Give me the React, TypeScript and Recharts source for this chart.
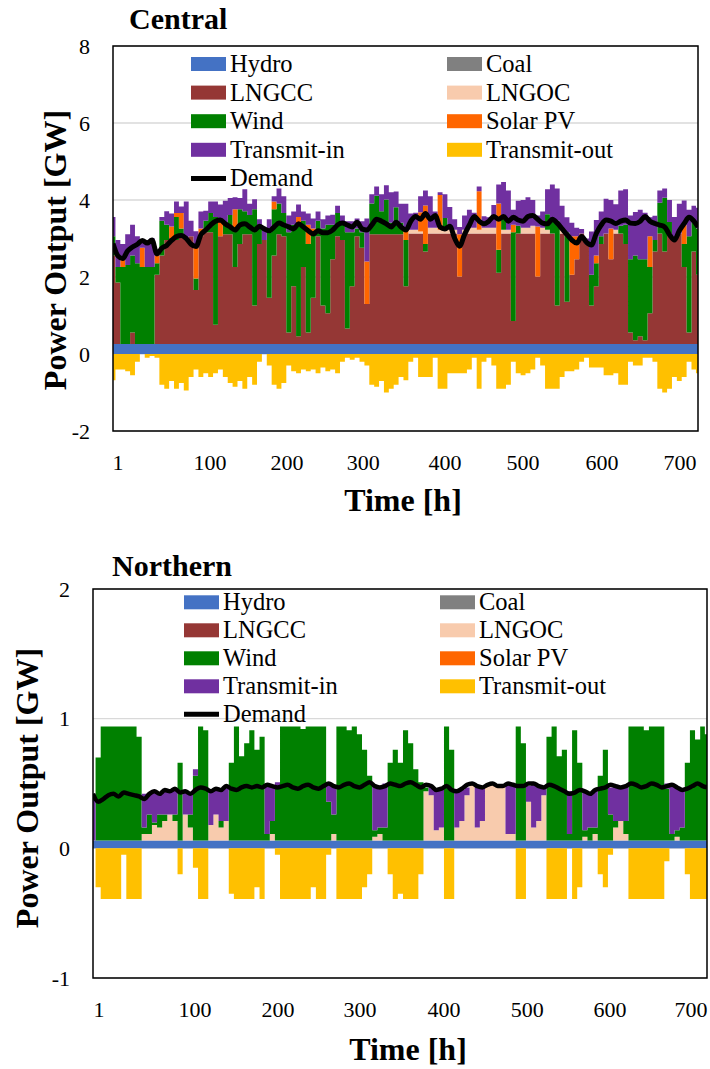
import React from 'react';
import { ComposedChart, Area, Line, XAxis, YAxis, CartesianGrid, ReferenceArea } from 'recharts';

const SERIF = "'Liberation Serif', 'Times New Roman', Times, serif";

// ---- categories: simulated hours (6-hourly samples of the 720 h month) ----
const hours: number[] = Array.from({ length: 121 }, (_, i) => Math.min(1 + 6 * i, 720));
const timeTicks = [1, 100, 200, 300, 400, 500, 600, 700];
const centralYTicks = [-2, 0, 2, 4, 6, 8];
const northernYTicks = [-1, 0, 1, 2];

// ---- Central region [GW] ----
const centralHydro = [
  0.26, 0.26, 0.26, 0.26, 0.26, 0.26, 0.26, 0.26, 0.26, 0.26,
  0.26, 0.26, 0.26, 0.26, 0.26, 0.26, 0.26, 0.26, 0.26, 0.26,
  0.26, 0.26, 0.26, 0.26, 0.26, 0.26, 0.26, 0.26, 0.26, 0.26,
  0.26, 0.26, 0.26, 0.26, 0.26, 0.26, 0.26, 0.26, 0.26, 0.26,
  0.26, 0.26, 0.26, 0.26, 0.26, 0.26, 0.26, 0.26, 0.26, 0.26,
  0.26, 0.26, 0.26, 0.26, 0.26, 0.26, 0.26, 0.26, 0.26, 0.26,
  0.26, 0.26, 0.26, 0.26, 0.26, 0.26, 0.26, 0.26, 0.26, 0.26,
  0.26, 0.26, 0.26, 0.26, 0.26, 0.26, 0.26, 0.26, 0.26, 0.26,
  0.26, 0.26, 0.26, 0.26, 0.26, 0.26, 0.26, 0.26, 0.26, 0.26,
  0.26, 0.26, 0.26, 0.26, 0.26, 0.26, 0.26, 0.26, 0.26, 0.26,
  0.26, 0.26, 0.26, 0.26, 0.26, 0.26, 0.26, 0.26, 0.26, 0.26,
  0.26, 0.26, 0.26, 0.26, 0.26, 0.26, 0.26, 0.26, 0.26, 0.26, 0.26,
];
const centralCoal = [
  0, 0, 0, 0, 0, 0, 0, 0, 0, 0, 0, 0, 0, 0, 0, 0, 0, 0, 0, 0,
  0, 0, 0, 0, 0, 0, 0, 0, 0, 0, 0, 0, 0, 0, 0, 0, 0, 0, 0, 0,
  0, 0, 0, 0, 0, 0, 0, 0, 0, 0, 0, 0, 0, 0, 0, 0, 0, 0, 0, 0,
  0, 0, 0, 0, 0, 0, 0, 0, 0, 0, 0, 0, 0, 0, 0, 0, 0, 0, 0, 0,
  0, 0, 0, 0, 0, 0, 0, 0, 0, 0, 0, 0, 0, 0, 0, 0, 0, 0, 0, 0,
  0, 0, 0, 0, 0, 0, 0, 0, 0, 0, 0, 0, 0, 0, 0, 0, 0, 0, 0, 0, 0,
];
const centralLNGCC = [
  2.3, 1.6, 0, 0, 0.3, 0, 0, 0, 0, 1.8,
  2.3, 2.7, 2.75, 2.7, 2.8, 2.75, 2.8, 1.4, 2.8, 2.9,
  2.9, 0.5, 2.8, 2.85, 2.85, 2.0, 2.6, 2.85, 2.85, 1.0,
  2.6, 2.7, 1.2, 2.3, 2.85, 2.8, 0.3, 1.5, 0.2, 2.0,
  0.3, 1.2, 2.8, 1.0, 0.8, 2.2, 2.8, 2.7, 0.4, 1.5,
  2.8, 2.5, 1.04, 2.85, 2.85, 2.85, 2.85, 2.85, 2.85, 2.85,
  1.5, 2.87, 2.87, 2.87, 2.4, 2.87, 2.87, 2.87, 2.87, 2.87,
  2.87, 1.75, 2.87, 2.87, 2.87, 2.87, 2.87, 2.87, 2.87, 1.85,
  2.87, 2.87, 0.6, 2.87, 2.87, 2.87, 2.87, 1.75, 2.87, 2.87,
  2.87, 1.0, 2.87, 1.1, 1.8, 2.2, 2.87, 2.6, 1.0, 1.5,
  2.6, 2.87, 2.2, 2.87, 2.87, 2.6, 0.3, 0.1, 0.2, 0.1,
  0.8, 2.4, 2.87, 2.4, 2.87, 2.7, 2.87, 2.0, 0.3, 2.4, 1.8,
];
const centralLNGOC = [
  0, 0, 0, 0, 0, 0, 0, 0, 0, 0,
  0, 0, 0, 0, 0, 0, 0, 0, 0, 0,
  0, 0, 0, 0, 0, 0, 0, 0, 0, 0,
  0, 0, 0, 0, 0, 0, 0, 0, 0, 0,
  0, 0, 0, 0, 0, 0, 0, 0, 0, 0,
  0, 0, 0, 0, 0, 0, 0, 0, 0, 0,
  0, 0.1, 0.1, 0.05, 0, 0.15, 0.15, 0.1, 0.1, 0.15,
  0.1, 0, 0.1, 0.15, 0.15, 0.1, 0.15, 0.15, 0.15, 0,
  0.1, 0.1, 0, 0, 0.15, 0.15, 0.2, 0, 0.15, 0.1,
  0, 0, 0.1, 0, 0, 0, 0, 0, 0, 0,
  0, 0, 0, 0.1, 0, 0, 0, 0, 0, 0,
  0, 0, 0, 0, 0, 0, 0, 0, 0, 0, 0,
];
const centralWind = [
  0.5, 0.4, 2.0, 2.05, 2.0, 2.1, 2.0, 2.0, 2.0, 0.3,
  0.9, 0.4, 0, 0.6, 0.2, 0, 0, 0.3, 0, 0.3,
  0.5, 2.8, 0, 0.3, 0.5, 1.0, 0.9, 0.6, 0.5, 2.5,
  0.4, 0, 1.7, 1.2, 0.8, 0.6, 2.6, 1.6, 2.9, 1.2,
  2.3, 1.7, 0.4, 2.0, 2.3, 0.9, 0.6, 0.4, 2.5, 1.4,
  0.2, 0.4, 0, 0.8, 1.0, 0.6, 0.9, 0.3, 0.7, 0.3,
  1.2, 0, 0, 0, 0.2, 0, 0, 0, 0.3, 0,
  0, 0, 0, 0, 0, 0, 0, 0, 0, 0.6,
  0.3, 0, 2.3, 0.2, 0, 0, 0, 0, 0, 0.4,
  0.3, 2.2, 0, 1.8, 0, 0, 0, 0, 0.8, 0.6,
  0.2, 0, 0, 0, 0.2, 0.5, 1.9, 2.2, 2.0, 2.1,
  1.2, 0.3, 0.8, 1.4, 0.3, 0, 0, 0.6, 2.5, 0.8, 1.2,
];
const centralSolar = [
  0, 0, 0.2, 0, 0, 0, 0.5, 0, 0, 0.2,
  0, 0, 0.3, 0.1, 0.4, 0, 0, 0.8, 0.2, 0,
  0, 0, 0.4, 0, 0, 0.5, 0, 0, 0, 0,
  0, 0, 0, 0.2, 0, 0, 0, 0, 0.2, 0,
  0.5, 0.1, 0, 0, 0, 0, 0, 0, 0, 0,
  0, 0, 1.1, 0, 0, 0, 0, 0, 0, 0,
  0.3, 0, 0, 0.5, 1.0, 0, 0, 0.9, 0, 0,
  0, 1.1, 0, 0, 0, 1.0, 0, 0, 0, 1.2,
  0, 0, 0.2, 0, 0, 0, 0, 1.3, 0, 0,
  0, 0, 0, 0, 1.0, 0.6, 0, 0, 0, 0.2,
  0, 0, 0.8, 0, 0, 0, 0, 0, 0, 0,
  0.8, 0, 0, 0, 0, 0, 0, 0.5, 0, 0, 0,
];
const centralTransIn = [
  0.5, 0.7, 0.4, 0.8, 0.8, 0.7, 0.2, 0.7, 0.75, 0.15,
  0.1, 0.35, 0.34, 0.3, 0.17, 0.95, 0.4, 0.43, 0.44, 0.26,
  0.3, 0.4, 0.42, 0.57, 0.44, 0.31, 0.29, 0.57, 0.29, 0.26,
  0.24, 0.26, 0.34, 0.14, 0.39, 0.44, 0.44, 0.34, 0.32, 0.24,
  0.29, 0.26, 0.24, 0.24, 0.24, 0.26, 0.19, 0.24, 0.29, 0.29,
  0.26, 0.29, 1.12, 0.24, 0.24, 0.44, 0.37, 0.79, 0.41, 0.49,
  0.64, 0.42, 0.44, 0.42, 0.39, 0.82, 0.42, 0.07, 0.62, 0.54,
  0.27, 0.19, 0.37, 0.47, 0.39, 0.12, 0.3, 0.27, 0.59, 0.49,
  0.94, 1.02, 0.39, 0.65, 0.72, 0.79, 0.67, 0.29, 0.42, 0.65,
  0.97, 0.84, 0.62, 0.39, 0.35, 0.22, 0.12, 0.14, 1.12, 0.92,
  0.64, 0.9, 0.74, 0.66, 0.92, 0.92, 1.14, 1.13, 1.29, 1.21,
  0.49, 0.63, 0.32, 0.24, 0.57, 0.6, 0.77, 0.63, 0.69, 0.39, 0.54,
];
const centralTransOut = [
  -0.68, -0.4, -0.4, -0.45, -0.55, -0.2, 0, -0.1, -0.05, -0.1,
  -0.8, -0.9, -0.7, -0.9, -0.75, -0.95, -0.6, -0.4, -0.6, -0.5,
  -0.6, -0.5, -0.4, -0.6, -0.75, -0.85, -0.7, -0.9, -0.6, -0.8,
  -0.2, 0, -0.3, -0.8, -0.9, -0.75, -0.3, -0.45, -0.5, -0.4,
  -0.45, -0.4, -0.5, -0.35, -0.45, -0.4, -0.5, -0.2, -0.1, -0.15,
  -0.1, -0.2, -0.3, -0.8, -0.85, -0.7, -1.0, -0.9, -0.8, -0.6,
  -0.68, -0.2, -0.1, -0.6, -0.6, -0.6, -0.1, -0.9, -0.9, -0.5,
  -0.5, -0.5, -0.5, -0.4, -0.1, -0.9, -0.2, -0.1, -0.3, -0.9,
  -0.9, -0.8, -0.2, -0.5, -0.55, -0.5, -0.4, -0.1, -0.3, -0.9,
  -0.9, -0.9, -0.6, -0.45, -0.45, -0.4, -0.2, -0.1, -0.35, -0.35,
  -0.35, -0.55, -0.55, -0.5, -0.8, -0.8, -0.2, -0.3, -0.3, -0.1,
  -0.1, -0.2, -0.9, -1.0, -0.9, -0.6, -0.7, -0.6, -0.2, -0.4, -0.5,
];
const centralDemand = [
  2.87, 2.55, 2.48, 2.68, 2.78, 2.85, 2.95, 2.88, 2.96, 2.6,
  2.75, 2.82, 2.95, 3.05, 3.08, 3.0, 2.85, 2.79, 3.1, 3.22,
  3.35, 3.45, 3.48, 3.38, 3.3, 3.22, 3.35, 3.38, 3.3, 3.22,
  3.32, 3.25, 3.2, 3.3, 3.4, 3.35, 3.3, 3.25, 3.38, 3.3,
  3.2, 3.12, 3.2, 3.15, 3.15, 3.22, 3.35, 3.4, 3.35, 3.3,
  3.42, 3.25, 3.22, 3.35, 3.5, 3.45, 3.38, 3.3, 3.42, 3.3,
  3.22, 3.45, 3.57, 3.5, 3.65, 3.5, 3.6, 3.3, 3.25, 3.32,
  3.0, 2.8, 3.1, 3.35, 3.57, 3.45, 3.38, 3.45, 3.57, 3.5,
  3.57, 3.45, 3.55, 3.48, 3.45, 3.57, 3.6, 3.5, 3.4, 3.38,
  3.5, 3.4, 3.25, 3.1, 2.96, 2.88, 3.05, 2.9, 2.83, 3.13,
  3.35, 3.48, 3.45, 3.39, 3.45, 3.48, 3.4, 3.39, 3.45, 3.57,
  3.45, 3.39, 3.35, 3.3, 3.1, 2.96, 3.2, 3.39, 3.55, 3.45, 3.3,
];

// ---- Northern region [GW] ----
const northernHydro = [
  0.06, 0.06, 0.06, 0.06, 0.06, 0.06, 0.06, 0.06, 0.06, 0.06,
  0.06, 0.06, 0.06, 0.06, 0.06, 0.06, 0.06, 0.06, 0.06, 0.06,
  0.06, 0.06, 0.06, 0.06, 0.06, 0.06, 0.06, 0.06, 0.06, 0.06,
  0.06, 0.06, 0.06, 0.06, 0.06, 0.06, 0.06, 0.06, 0.06, 0.06,
  0.06, 0.06, 0.06, 0.06, 0.06, 0.06, 0.06, 0.06, 0.06, 0.06,
  0.06, 0.06, 0.06, 0.06, 0.06, 0.06, 0.06, 0.06, 0.06, 0.06,
  0.06, 0.06, 0.06, 0.06, 0.06, 0.06, 0.06, 0.06, 0.06, 0.06,
  0.06, 0.06, 0.06, 0.06, 0.06, 0.06, 0.06, 0.06, 0.06, 0.06,
  0.06, 0.06, 0.06, 0.06, 0.06, 0.06, 0.06, 0.06, 0.06, 0.06,
  0.06, 0.06, 0.06, 0.06, 0.06, 0.06, 0.06, 0.06, 0.06, 0.06,
  0.06, 0.06, 0.06, 0.06, 0.06, 0.06, 0.06, 0.06, 0.06, 0.06,
  0.06, 0.06, 0.06, 0.06, 0.06, 0.06, 0.06, 0.06, 0.06, 0.06, 0.06,
];
const northernCoal = [
  0, 0, 0, 0, 0, 0, 0, 0, 0, 0, 0, 0, 0, 0, 0, 0, 0, 0, 0, 0,
  0, 0, 0, 0, 0, 0, 0, 0, 0, 0, 0, 0, 0, 0, 0, 0, 0, 0, 0, 0,
  0, 0, 0, 0, 0, 0, 0, 0, 0, 0, 0, 0, 0, 0, 0, 0, 0, 0, 0, 0,
  0, 0, 0, 0, 0, 0, 0, 0, 0, 0, 0, 0, 0, 0, 0, 0, 0, 0, 0, 0,
  0, 0, 0, 0, 0, 0, 0, 0, 0, 0, 0, 0, 0, 0, 0, 0, 0, 0, 0, 0,
  0, 0, 0, 0, 0, 0, 0, 0, 0, 0, 0, 0, 0, 0, 0, 0, 0, 0, 0, 0, 0,
];
const northernLNGCC = [
  0, 0, 0, 0, 0, 0, 0, 0, 0, 0, 0, 0, 0, 0, 0, 0, 0, 0, 0, 0,
  0, 0, 0, 0, 0, 0, 0, 0, 0, 0, 0, 0, 0, 0, 0, 0, 0, 0, 0, 0,
  0, 0, 0, 0, 0, 0, 0, 0, 0, 0, 0, 0, 0, 0, 0, 0, 0, 0, 0, 0,
  0, 0, 0, 0, 0, 0, 0, 0, 0, 0, 0, 0, 0, 0, 0, 0, 0, 0, 0, 0,
  0, 0, 0, 0, 0, 0, 0, 0, 0, 0, 0, 0, 0, 0, 0, 0, 0, 0, 0, 0,
  0, 0, 0, 0, 0, 0, 0, 0, 0, 0, 0, 0, 0, 0, 0, 0, 0, 0, 0, 0, 0,
];
const northernLNGOC = [
  0, 0, 0, 0, 0, 0, 0, 0, 0, 0,
  0.05, 0.05, 0.12, 0.1, 0.15, 0.2, 0.15, 0, 0.2, 0.1,
  0, 0, 0, 0.12, 0.2, 0.1, 0.15, 0, 0, 0,
  0, 0, 0, 0, 0, 0.05, 0, 0, 0, 0,
  0, 0, 0, 0, 0, 0, 0, 0.05, 0, 0,
  0, 0, 0, 0, 0, 0.03, 0.05, 0, 0, 0,
  0, 0, 0, 0, 0, 0.38, 0.35, 0.08, 0.1, 0,
  0, 0.1, 0.15, 0.35, 0.43, 0.1, 0.15, 0.42, 0.44, 0.42,
  0.42, 0.05, 0.05, 0, 0, 0.3, 0.1, 0.15, 0.35, 0,
  0, 0, 0, 0, 0, 0, 0.03, 0, 0.05, 0,
  0, 0, 0.1, 0.15, 0.05, 0, 0, 0, 0, 0,
  0, 0, 0, 0, 0.03, 0, 0, 0, 0, 0, 0,
];
const northernWind = [
  0, 0.64, 0.88, 0.88, 0.88, 0.88, 0.88, 0.88, 0.88, 0.8,
  0.05, 0.15, 0.02, 0.1, 0.05, 0, 0.05, 0.6, 0, 0.1,
  0.5, 0.88, 0.85, 0, 0, 0.05, 0, 0.6, 0.88, 0.65,
  0.75, 0.85, 0.7, 0.8, 0.05, 0.1, 0.4, 0.88, 0.88, 0.88,
  0.88, 0.86, 0.88, 0.88, 0.88, 0.88, 0.3, 0.15, 0.88, 0.88,
  0.85, 0.88, 0.82, 0.7, 0.5, 0.05, 0.05, 0.1, 0.6, 0.7,
  0.6, 0.85, 0.75, 0.55, 0.45, 0.03, 0, 0, 0, 0.88,
  0.7, 0, 0, 0, 0, 0, 0, 0, 0, 0,
  0, 0, 0, 0.88, 0.75, 0, 0, 0, 0, 0.8,
  0.88, 0.65, 0.7, 0.05, 0.85, 0.6, 0.05, 0.1, 0.05, 0.5,
  0.7, 0.2, 0.05, 0, 0.1, 0.88, 0.88, 0.88, 0.85, 0.88,
  0.88, 0.88, 0.4, 0.05, 0.05, 0.1, 0.6, 0.85, 0.78, 0.88, 0.82,
];
const northernSolar = [
  0, 0, 0, 0, 0, 0, 0, 0, 0, 0, 0, 0, 0, 0, 0, 0, 0, 0, 0, 0,
  0, 0, 0, 0, 0, 0, 0, 0, 0, 0, 0, 0, 0, 0, 0, 0, 0, 0, 0, 0,
  0, 0, 0, 0, 0, 0, 0, 0, 0, 0, 0, 0, 0, 0, 0, 0, 0, 0, 0, 0,
  0, 0, 0, 0, 0, 0, 0, 0, 0, 0, 0, 0, 0, 0, 0, 0, 0, 0, 0, 0,
  0, 0, 0, 0, 0, 0, 0, 0, 0, 0, 0, 0, 0, 0, 0, 0, 0, 0, 0, 0,
  0, 0, 0, 0, 0, 0, 0, 0, 0, 0, 0, 0, 0, 0, 0, 0, 0, 0, 0, 0, 0,
];
const northernTransIn = [
  0.36, 0, 0, 0, 0, 0, 0, 0, 0, 0,
  0.26, 0.16, 0.24, 0.16, 0.19, 0.18, 0.2, 0, 0.18, 0.16,
  0.05, 0, 0, 0.26, 0.2, 0.24, 0.27, 0, 0, 0,
  0, 0, 0, 0, 0.38, 0.27, 0.05, 0, 0, 0,
  0, 0, 0, 0, 0, 0, 0.15, 0.22, 0, 0,
  0, 0, 0, 0, 0, 0.34, 0.32, 0.34, 0, 0,
  0, 0, 0, 0, 0, 0, 0.07, 0.31, 0.31, 0,
  0, 0.28, 0.24, 0.06, 0, 0.32, 0.26, 0, 0, 0,
  0, 0.39, 0.38, 0, 0, 0.12, 0.34, 0.27, 0.06, 0,
  0, 0, 0, 0.33, 0, 0, 0.3, 0.26, 0.29, 0,
  0, 0.21, 0.28, 0.26, 0.27, 0, 0, 0, 0, 0,
  0, 0, 0.04, 0.38, 0.33, 0.29, 0, 0, 0, 0, 0,
];
const northernTransOut = [
  0, -0.3, -0.39, -0.39, -0.39, -0.39, -0.05, -0.39, -0.39, -0.39,
  0, 0, 0, 0, 0, 0, 0, -0.2, 0, 0,
  -0.15, -0.39, -0.39, 0, 0, 0, 0, -0.35, -0.39, -0.39,
  -0.39, -0.39, -0.3, -0.39, 0, 0, -0.05, -0.39, -0.39, -0.39,
  -0.39, -0.39, -0.39, -0.3, -0.39, -0.39, -0.05, 0, -0.39, -0.39,
  -0.39, -0.39, -0.39, -0.3, -0.2, 0, 0, 0, -0.2, -0.39,
  -0.35, -0.39, -0.39, -0.39, -0.2, 0, 0, 0, 0, -0.39,
  -0.39, 0, 0, 0, 0, 0, 0, 0, 0, 0,
  0, 0, 0, -0.39, -0.39, 0, 0, 0, 0, -0.39,
  -0.39, -0.39, -0.39, 0, -0.39, -0.3, 0, 0, 0, -0.2,
  -0.3, -0.05, 0, 0, 0, -0.39, -0.39, -0.39, -0.39, -0.39,
  -0.39, -0.39, -0.1, 0, 0, 0, -0.2, -0.39, -0.39, -0.39, -0.39,
];
const northernDemand = [
  0.42, 0.36, 0.38, 0.41, 0.42, 0.40, 0.43, 0.42, 0.41, 0.40,
  0.38, 0.42, 0.44, 0.42, 0.45, 0.44, 0.46, 0.43, 0.44, 0.42,
  0.45, 0.47, 0.46, 0.44, 0.46, 0.45, 0.48, 0.46, 0.45, 0.47,
  0.48, 0.47, 0.48, 0.47, 0.49, 0.48, 0.47, 0.48, 0.49, 0.47,
  0.46, 0.48, 0.49, 0.47, 0.46, 0.48, 0.50, 0.48, 0.47, 0.49,
  0.50, 0.48, 0.47, 0.49, 0.51, 0.48, 0.47, 0.48, 0.50, 0.49,
  0.48, 0.50, 0.51, 0.49, 0.47, 0.49, 0.48, 0.45, 0.46, 0.48,
  0.45, 0.44, 0.46, 0.49, 0.50, 0.48, 0.47, 0.49, 0.50, 0.48,
  0.48, 0.50, 0.49, 0.48, 0.48, 0.50, 0.50, 0.48, 0.47, 0.49,
  0.48, 0.46, 0.44, 0.42, 0.43, 0.45, 0.44, 0.42, 0.45, 0.46,
  0.47, 0.49, 0.48, 0.47, 0.48, 0.50, 0.49, 0.47, 0.48, 0.50,
  0.49, 0.47, 0.48, 0.49, 0.47, 0.45, 0.46, 0.48, 0.50, 0.48, 0.47,
];

// ---- series / legend definitions ----
const stackSeries = [
  { key: 'hydro', name: 'Hydro', color: '#4472C4' },
  { key: 'coal', name: 'Coal', color: '#808080' },
  { key: 'lngcc', name: 'LNGCC', color: '#953735' },
  { key: 'lngoc', name: 'LNGOC', color: '#F8CBAD' },
  { key: 'wind', name: 'Wind', color: '#008000' },
  { key: 'solar', name: 'Solar PV', color: '#FF6600' },
  { key: 'tin', name: 'Transmit-in', color: '#7030A0' },
  { key: 'tout', name: 'Transmit-out', color: '#FFC000' },
];
const legendLeft = ['Hydro', 'LNGCC', 'Wind', 'Transmit-in', 'Demand'];
const legendRight = ['Coal', 'LNGOC', 'Solar PV', 'Transmit-out'];

function buildRows(s: Record<string, number[]>) {
  return hours.map((h, i) => {
    const row: Record<string, number> = { h };
    Object.keys(s).forEach((k) => {
      row[k] = s[k][i];
    });
    return row;
  });
}

const centralRows = buildRows({
  hydro: centralHydro, coal: centralCoal, lngcc: centralLNGCC, lngoc: centralLNGOC,
  wind: centralWind, solar: centralSolar, tin: centralTransIn, tout: centralTransOut,
  demand: centralDemand,
});
const northernRows = buildRows({
  hydro: northernHydro, coal: northernCoal, lngcc: northernLNGCC, lngoc: northernLNGOC,
  wind: northernWind, solar: northernSolar, tin: northernTransIn, tout: northernTransOut,
  demand: northernDemand,
});

// label offsets (px) of the hand-placed time labels relative to the hour scale
const centralTickShift = [5, 16.5, 12, 7, 7.4, 4, 1.6, -1.7];
const northernTickShift = [6, 17.5, 15, 11.7, 10.3, 8, 5.5, 1];

function makeTimeTick(shift: number[]) {
  return (props: any) => {
    const { x, y, payload } = props;
    const idx = timeTicks.indexOf(payload.value);
    return (
      <text x={x + (shift[idx] || 0)} y={y + 39} textAnchor="middle" fontFamily={SERIF} fontSize={22} fill="#000">
        {payload.value}
      </text>
    );
  };
}

type PanelProps = {
  rows: Record<string, number>[];
  height: number;
  margin: { top: number; right: number; bottom: number; left: number };
  xAxisHeight: number;
  yDomain: [number, number];
  yTicks: number[];
  tickShift: number[];
  demandWidth: number;
};

function Panel({ rows, height, margin, xAxisHeight, yDomain, yTicks, tickShift, demandWidth }: PanelProps) {
  return (
    <ComposedChart width={710} height={height} data={rows} margin={margin} stackOffset="sign">
      <CartesianGrid vertical={false} horizontal stroke="#d9d9d9" strokeWidth={1.3} />
      <XAxis
        dataKey="h"
        type="number"
        domain={[1, 720]}
        ticks={timeTicks}
        interval={0}
        allowDataOverflow
        axisLine={false}
        tickLine={false}
        tickSize={0}
        tickMargin={0}
        height={xAxisHeight}
        tick={makeTimeTick(tickShift)}
      />
      <YAxis
        type="number"
        domain={yDomain}
        ticks={yTicks}
        interval={0}
        allowDataOverflow
        width={60}
        axisLine={false}
        tickLine={false}
        tickSize={0}
        tickMargin={23}
        tick={{ fontFamily: SERIF, fontSize: 22, fill: '#000' }}
      />
      {stackSeries.map((s) => (
        <Area
          key={s.key}
          dataKey={s.key}
          name={s.name}
          stackId="supply"
          type="step"
          fill={s.color}
          fillOpacity={1}
          stroke="none"
          isAnimationActive={false}
        />
      ))}
      <Line
        dataKey="demand"
        name="Demand"
        type="monotone"
        stroke="#000"
        strokeWidth={demandWidth}
        dot={false}
        isAnimationActive={false}
      />
      <ReferenceArea x1={1} x2={720} y1={yDomain[0]} y2={yDomain[1]} fill="none" fillOpacity={0} stroke="#000" strokeWidth={1.5} />
    </ComposedChart>
  );
}

function colorOf(name: string) {
  const s = stackSeries.find((d) => d.name === name);
  return s ? s.color : '#000';
}

function LegendBlock({ x1, x2, y0, dy }: { x1: number; x2: number; y0: number; dy: number }) {
  const item = (name: string, x: number, y: number) => (
    <g key={name}>
      {name === 'Demand' ? (
        <line x1={x} x2={x + 35} y1={y} y2={y} stroke="#000" strokeWidth={5} />
      ) : (
        <rect x={x} y={y - 7} width={35} height={14} fill={colorOf(name)} />
      )}
      <text x={x + 39} y={y + 8} fontFamily={SERIF} fontSize={24.5} fill="#000">
        {name}
      </text>
    </g>
  );
  return (
    <g>
      {legendLeft.map((n, i) => item(n, x1, y0 + i * dy))}
      {legendRight.map((n, i) => item(n, x2, y0 + i * dy))}
    </g>
  );
}

export default function App() {
  return (
    <div style={{ position: 'absolute', left: 0, top: 0, width: 710, height: 1069, background: '#fff', overflow: 'hidden' }}>
      <div style={{ position: 'absolute', left: 0, top: 0 }}>
        <Panel
          rows={centralRows}
          height={540}
          margin={{ top: 46, right: 12, bottom: 9, left: 53 }}
          xAxisHeight={100}
          yDomain={[-2, 8]}
          yTicks={centralYTicks}
          tickShift={centralTickShift}
          demandWidth={5}
        />
      </div>
      <div style={{ position: 'absolute', left: 0, top: 540 }}>
        <Panel
          rows={northernRows}
          height={529}
          margin={{ top: 49, right: 3, bottom: 6, left: 33 }}
          xAxisHeight={85}
          yDomain={[-1, 2]}
          yTicks={northernYTicks}
          tickShift={northernTickShift}
          demandWidth={4.5}
        />
      </div>
      <svg width={710} height={1069} style={{ position: 'absolute', left: 0, top: 0, pointerEvents: 'none' }}>
        <text x={129} y={29} fontFamily={SERIF} fontWeight="bold" fontSize={30} fill="#000">Central</text>
        <text x={112} y={576} fontFamily={SERIF} fontWeight="bold" fontSize={30} fill="#000">Northern</text>
        <text transform="translate(65.6,250) rotate(-90)" textAnchor="middle" fontFamily={SERIF} fontWeight="bold" fontSize={32} fill="#000">Power Output [GW]</text>
        <text transform="translate(37.6,788) rotate(-90)" textAnchor="middle" fontFamily={SERIF} fontWeight="bold" fontSize={32} fill="#000">Power Output [GW]</text>
        <text x={403} y={511} textAnchor="middle" fontFamily={SERIF} fontWeight="bold" fontSize={32} fill="#000">Time [h]</text>
        <text x={408} y={1060} textAnchor="middle" fontFamily={SERIF} fontWeight="bold" fontSize={32} fill="#000">Time [h]</text>
        <LegendBlock x1={191} x2={447} y0={64} dy={28.6} />
        <LegendBlock x1={184} x2={440} y0={602.3} dy={28} />
      </svg>
    </div>
  );
}
